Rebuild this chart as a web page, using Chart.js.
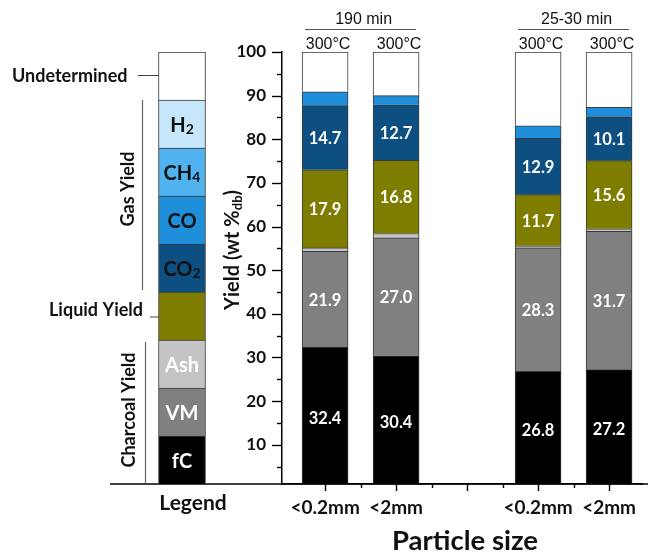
<!DOCTYPE html>
<html><head><meta charset="utf-8">
<script src="https://cdn.jsdelivr.net/npm/chart.js@4.4.0/dist/chart.umd.min.js"></script>
<style>
html,body{margin:0;padding:0;background:#fff;}
#wrap{position:relative;width:648px;height:554px;overflow:hidden;background:#fff;}
#main{position:absolute;left:0;top:0;}
#leg{position:absolute;left:150px;top:52px;}
</style></head><body>
<div id="wrap"><canvas id="main" width="648" height="554"></canvas><canvas id="leg" width="64" height="432"></canvas></div>
<script>
// ---- data ----
const categories = ['<0.2mm', '<2mm', '', '<0.2mm', '<2mm'];
const fixedCarbon    = [32.4, 30.4, null, 26.8, 27.2];
const volatileMatter = [21.9, 27.0, null, 28.3, 31.7];
const ashYield       = [0.8, 1.0, null, 0.5, 0.6];
const liquidYield    = [17.9, 16.8, null, 11.7, 15.6];
const co2Yield       = [14.7, 12.7, null, 12.9, 10.1];
const coYield        = [3.2, 2.1, null, 2.9, 2.1];
const undetermined   = [9.1, 10.0, null, 16.9, 12.7];
const yTicks = [10, 20, 30, 40, 50, 60, 70, 80, 90, 100];
const yMinorTicks = [5, 15, 25, 35, 45, 55, 65, 75, 85, 95];
const temperatureLabels = ['300°C', '300°C', '', '300°C', '300°C'];
const durationGroups = [{ text: '190 min', from: 0, to: 1 }, { text: '25-30 min', from: 3, to: 4 }];
const legendKeys = ['fC', 'VM', 'Ash', 'Liquid', 'CO2', 'CO', 'CH4', 'H2', 'Undetermined'];
const legendText = [['fC', ''], ['VM', ''], ['Ash', ''], ['', ''], ['CO', '2'], ['CO', ''], ['CH', '4'], ['H', '2'], ['', '']];

// ---- styles ----
const colors = {
  fC: '#000000', VM: '#808080', Ash: '#c4c4c4', Liquid: '#7f7d00',
  CO2: '#0c4f80', CO: '#1f8fdc', CH4: '#50b3ef', H2: '#c6e6fb', Undetermined: '#ffffff'
};
const legendTextColor = { fC: '#fff', VM: '#fff', Ash: '#fff' };
const BOLD = 'Lato, "Open Sans", sans-serif';
const REG = '"Liberation Sans", Arial, sans-serif';
const edge = '#3a3a3a';

const series = [
  { key: 'fC', values: fixedCarbon, show: true },
  { key: 'VM', values: volatileMatter, show: true },
  { key: 'Ash', values: ashYield, show: false },
  { key: 'Liquid', values: liquidYield, show: true },
  { key: 'CO2', values: co2Yield, show: true },
  { key: 'CO', values: coYield, show: false },
  { key: 'Undetermined', values: undetermined, show: false }
];

function drawRuns(ctx, runs, x, y, align, color) {
  let total = 0;
  runs.forEach(r => { ctx.font = r.font; r.w = ctx.measureText(r.t).width; total += r.w; });
  let cx = align === 'center' ? x - total / 2 : align === 'right' ? x - total : x;
  ctx.fillStyle = color; ctx.textAlign = 'left'; ctx.textBaseline = 'middle';
  runs.forEach(r => { ctx.font = r.font; ctx.fillText(r.t, cx, y + (r.dy || 0)); cx += r.w; });
}

const annotate = {
  id: 'annotate',
  afterDatasetsDraw(chart) {
    const ctx = chart.ctx, xs = chart.scales.x, ys = chart.scales.y, area = chart.chartArea;
    ctx.save();
    // value labels
    chart.data.datasets.forEach((ds, di) => {
      if (!ds.showValues) return;
      chart.getDatasetMeta(di).data.forEach((el, i) => {
        const v = ds.data[i] && ds.data[i].y;
        if (v == null) return;
        const p = el.getProps(['x', 'y', 'base'], true);
        ctx.font = 'bold 16.5px ' + BOLD; ctx.fillStyle = '#fff';
        ctx.textAlign = 'center'; ctx.textBaseline = 'middle';
        ctx.fillText(v.toFixed(1), p.x, (p.y + p.base) / 2 + 1);
      });
    });
    // baseline (legend + axis)
    ctx.strokeStyle = '#000'; ctx.lineWidth = 1.5;
    ctx.beginPath(); ctx.moveTo(110, area.bottom); ctx.lineTo(648, area.bottom); ctx.stroke();
    // y ticks
    ctx.lineWidth = 1.4;
    yTicks.forEach(v => {
      const py = Math.round(ys.getPixelForValue(v)) + 0.5;
      ctx.beginPath(); ctx.moveTo(area.left - 10, py); ctx.lineTo(area.left, py); ctx.stroke();
    });
    yMinorTicks.forEach(v => {
      const py = Math.round(ys.getPixelForValue(v)) + 0.5;
      ctx.beginPath(); ctx.moveTo(area.left - 5, py); ctx.lineTo(area.left, py); ctx.stroke();
    });
    // x ticks
    xs.ticks.forEach(t => {
      const px = Math.round(xs.getPixelForValue(t.value)) + 0.5;
      const len = Number.isInteger(t.value) ? 7 : 4;
      ctx.beginPath(); ctx.moveTo(px, area.bottom); ctx.lineTo(px, area.bottom + len); ctx.stroke();
    });
    // temperature labels
    ctx.font = '16px ' + REG; ctx.fillStyle = '#111'; ctx.textAlign = 'center'; ctx.textBaseline = 'middle';
    temperatureLabels.forEach((t, i) => { if (t) ctx.fillText(t, xs.getPixelForValue(i + 1) + 3, 45); });
    // duration groups
    durationGroups.forEach(g => {
      const a = xs.getPixelForValue(g.from + 1), b = xs.getPixelForValue(g.to + 1);
      ctx.fillStyle = '#111';
      ctx.fillText(g.text, (a + b) / 2 + 3, 20);
      ctx.strokeStyle = '#555'; ctx.lineWidth = 1;
      ctx.beginPath(); ctx.moveTo(a - 20, 29.5); ctx.lineTo(b + 20, 29.5); ctx.stroke();
    });
    // y title
    ctx.save();
    ctx.translate(233, 250); ctx.rotate(-Math.PI / 2);
    drawRuns(ctx, [
      { t: 'Yield (wt %', font: 'bold 20px ' + BOLD },
      { t: 'db', font: 'bold 13px ' + BOLD, dy: 5 },
      { t: ')', font: 'bold 20px ' + BOLD }
    ], 0, 0, 'center', '#111');
    ctx.restore();
    // x title
    ctx.font = 'bold 27.5px ' + BOLD; ctx.fillStyle = '#111'; ctx.textAlign = 'center'; ctx.textBaseline = 'middle';
    ctx.fillText('Particle size', 465, 541);
    // legend annotations
    ctx.font = 'bold 21px ' + BOLD;
    ctx.fillText('Legend', 193, 503);
    ctx.font = 'bold 18px ' + BOLD;
    ctx.textAlign = 'left';
    ctx.fillText('Undetermined', 12, 76);
    ctx.textAlign = 'right';
    ctx.fillText('Liquid Yield', 143, 310);
    ctx.strokeStyle = '#444'; ctx.lineWidth = 1.2;
    ctx.beginPath(); ctx.moveTo(138, 75.5); ctx.lineTo(175, 75.5); ctx.stroke();
    ctx.beginPath(); ctx.moveTo(150, 317); ctx.lineTo(188, 317); ctx.stroke();
    ctx.strokeStyle = '#666';
    ctx.beginPath(); ctx.moveTo(142.5, 100); ctx.lineTo(142.5, 290); ctx.stroke();
    ctx.beginPath(); ctx.moveTo(145.5, 342); ctx.lineTo(145.5, 483); ctx.stroke();
    ctx.textAlign = 'center'; ctx.font = 'bold 18px ' + BOLD;
    [['Gas Yield', 128, 189], ['Charcoal Yield', 129, 410]].forEach(([t, x, y]) => {
      ctx.save(); ctx.translate(x, y); ctx.rotate(-Math.PI / 2); ctx.fillText(t, 0, 0); ctx.restore();
    });
    ctx.restore();
  }
};

const xTickValues = [];
categories.forEach((c, i) => { xTickValues.push(i + 1); if (i < categories.length - 1) xTickValues.push(i + 1.5); });

new Chart(document.getElementById('main'), {
  type: 'bar',
  data: {
    datasets: series.map(s => ({
      label: s.key,
      data: s.values.map((v, i) => ({ x: i + 1, y: v })),
      backgroundColor: colors[s.key],
      borderColor: edge,
      borderWidth: 1,
      barThickness: 46,
      showValues: s.show
    }))
  },
  options: {
    responsive: false, animation: false,
    layout: { padding: { top: 52, left: 0, right: 0, bottom: 0 } },
    plugins: { legend: { display: false }, tooltip: { enabled: false } },
    scales: {
      x: {
        type: 'linear', stacked: true, min: 0.393, max: 5.476, offset: false,
        afterBuildTicks: s => { s.ticks = xTickValues.map(v => ({ value: v })); },
        afterFit: s => { s.height = 70; },
        ticks: {
          autoSkip: false, maxRotation: 0, padding: 12,
          font: { family: BOLD, size: 19, weight: 'bold' }, color: '#111',
          callback: v => Number.isInteger(v) ? categories[v - 1] : ''
        },
        grid: { display: false, drawTicks: false, tickLength: 0 },
        border: { display: true, color: '#000', width: 1.5 }
      },
      y: {
        stacked: true, min: 1, max: 100,
        afterBuildTicks: s => { s.ticks = yTicks.map(v => ({ value: v })); },
        afterFit: s => { s.width = 282; },
        ticks: { padding: 16, font: { family: BOLD, size: 17, weight: 'bold' }, color: '#111' },
        grid: { display: false, drawTicks: false, tickLength: 0 },
        border: { display: true, color: '#000', width: 1.5 }
      }
    }
  },
  plugins: [annotate]
});

const legendLabels = {
  id: 'legendLabels',
  afterDatasetsDraw(chart) {
    const ctx = chart.ctx;
    chart.data.datasets.forEach((ds, di) => {
      const [main, sub] = legendText[di];
      if (!main) return;
      const el = chart.getDatasetMeta(di).data[0];
      const p = el.getProps(['x', 'y', 'base'], true);
      drawRuns(ctx, [
        { t: main, font: 'bold 20px ' + BOLD },
        { t: sub, font: 'bold 14px ' + BOLD, dy: 3 }
      ], p.x, (p.y + p.base) / 2 + 2, 'center', legendTextColor[ds.label] || '#111');
    });
  }
};

new Chart(document.getElementById('leg'), {
  type: 'bar',
  data: {
    labels: ['Legend'],
    datasets: legendKeys.map(k => ({
      label: k, data: [1], backgroundColor: colors[k], borderColor: edge, borderWidth: 1, barThickness: 47
    }))
  },
  options: {
    responsive: false, animation: false,
    layout: { padding: 0 },
    plugins: { legend: { display: false }, tooltip: { enabled: false } },
    scales: {
      x: { display: false, stacked: true },
      y: { display: false, stacked: true, min: 0, max: 9 }
    }
  },
  plugins: [legendLabels]
});
</script>
</body></html>
